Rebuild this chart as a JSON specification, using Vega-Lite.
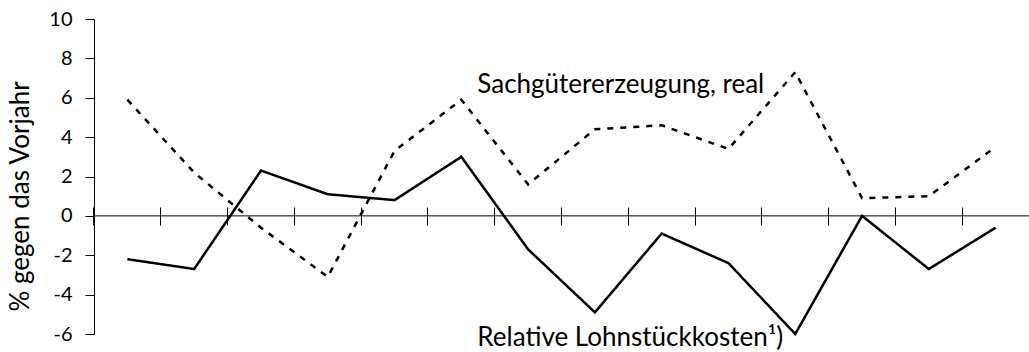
{
  "$schema": "https://vega.github.io/schema/vega-lite/v6.json",
  "width": 935,
  "height": 315,
  "autosize": "none",
  "padding": {"left": 94, "top": 19, "right": 0, "bottom": 18},
  "background": "white",
  "config": {
    "view": {"stroke": null},
    "font": "Lato",
    "axis": {"grid": false, "labelColor": "#000", "titleColor": "#000", "labelFont": "Lato", "titleFont": "Lato", "titleFontWeight": "normal", "labelFontWeight": "normal", "labelOverlap": false}
  },
  "datasets": {
    "series": [
      {"t": 1, "serie": "L", "v": -2.2},
      {"t": 2, "serie": "L", "v": -2.7},
      {"t": 3, "serie": "L", "v": 2.3},
      {"t": 4, "serie": "L", "v": 1.1},
      {"t": 5, "serie": "L", "v": 0.8},
      {"t": 6, "serie": "L", "v": 3.0},
      {"t": 7, "serie": "L", "v": -1.7},
      {"t": 8, "serie": "L", "v": -4.9},
      {"t": 9, "serie": "L", "v": -0.9},
      {"t": 10, "serie": "L", "v": -2.4},
      {"t": 11, "serie": "L", "v": -6.0},
      {"t": 12, "serie": "L", "v": 0.0},
      {"t": 13, "serie": "L", "v": -2.7},
      {"t": 14, "serie": "L", "v": -0.6},
      {"t": 1, "serie": "S", "v": 5.9},
      {"t": 2, "serie": "S", "v": 2.2},
      {"t": 3, "serie": "S", "v": -0.6},
      {"t": 4, "serie": "S", "v": -3.1},
      {"t": 5, "serie": "S", "v": 3.3},
      {"t": 6, "serie": "S", "v": 5.9},
      {"t": 7, "serie": "S", "v": 1.6},
      {"t": 8, "serie": "S", "v": 4.4},
      {"t": 9, "serie": "S", "v": 4.6},
      {"t": 10, "serie": "S", "v": 3.4},
      {"t": 11, "serie": "S", "v": 7.3},
      {"t": 12, "serie": "S", "v": 0.9},
      {"t": 13, "serie": "S", "v": 1.0},
      {"t": 14, "serie": "S", "v": 3.5}
    ],
    "labels": [
      {"label": "Sachgütererzeugung, real", "t": 6, "v": 6.25},
      {"label": "Relative Lohnstückkosten¹)", "t": 6, "v": -6.6}
    ]
  },
  "layer": [
    {
      "data": {"name": "series"},
      "mark": {"type": "line", "color": "#000", "strokeWidth": 2.5, "strokeCap": "butt", "strokeJoin": "miter"},
      "encoding": {
        "x": {
          "field": "t",
          "type": "ordinal",
          "scale": {"type": "band", "paddingInner": 0, "paddingOuter": 0},
          "axis": {"bandPosition": 0, "labels": false, "title": null, "domain": false, "tickSize": 18, "offset": -127, "tickColor": "#000", "tickWidth": 1}
        },
        "y": {
          "field": "v",
          "type": "quantitative",
          "scale": {"domain": [-6, 10], "nice": false, "zero": false},
          "axis": {
            "values": [-6, -4, -2, 0, 2, 4, 6, 8, 10],
            "tickCount": 20,
            "labelExpr": "'' + datum.value",
            "labelOverlap": false,
            "labelFlush": false,
            "labelBaseline": "middle",
            "domain": true,
            "domainColor": "#000",
            "domainWidth": 1,
            "tickSize": 9,
            "offset": 0,
            "tickColor": "#000",
            "tickWidth": 1,
            "labelPadding": 13,
            "labelFontSize": 20,
            "title": "% gegen das Vorjahr",
            "titleFontSize": 26,
            "titleAngle": -90,
            "titleAlign": "center",
            "titleBaseline": "alphabetic",
            "titleX": -66,
            "titleY": 177
          }
        },
        "detail": {"field": "serie"},
        "strokeDash": {
          "field": "serie",
          "type": "nominal",
          "scale": {"domain": ["L", "S"], "range": [[1, 0], [6, 7]]},
          "legend": null
        }
      }
    },
    {
      "data": {"values": [{"v": 0}]},
      "mark": {"type": "rule", "color": "#000", "strokeWidth": 1},
      "encoding": {"y": {"field": "v", "type": "quantitative"}}
    },
    {
      "data": {"name": "labels"},
      "mark": {"type": "text", "align": "left", "baseline": "alphabetic", "fontSize": 26, "fontWeight": "normal", "color": "#000", "dx": 16},
      "encoding": {
        "x": {"field": "t", "type": "ordinal"},
        "y": {"field": "v", "type": "quantitative"},
        "text": {"field": "label"}
      }
    }
  ]
}
